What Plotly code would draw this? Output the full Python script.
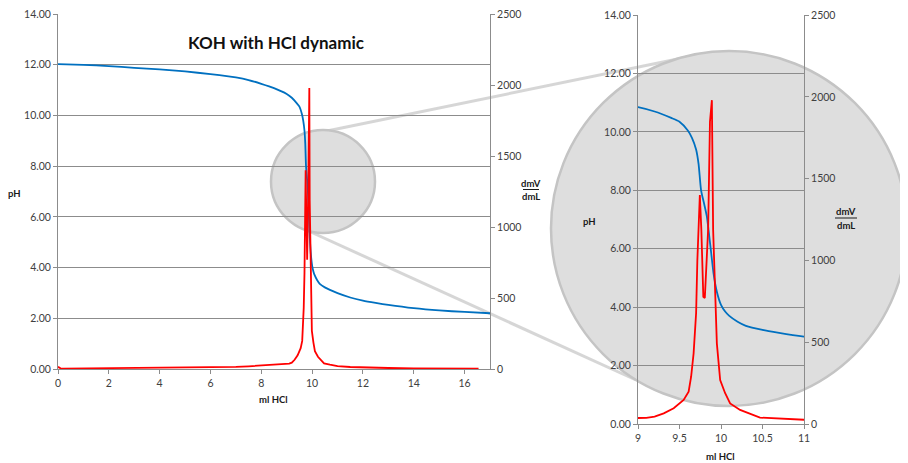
import plotly.graph_objects as go

# ---------------- data ----------------
ml_hcl_ph = [0, 1, 2, 3, 4, 5, 6, 7, 7.5, 8, 8.5, 9, 9.2, 9.4, 9.5, 9.6, 9.65, 9.7,
             9.73, 9.76, 9.8, 9.83, 9.85, 9.88, 9.91, 9.95, 10.0, 10.05, 10.1, 10.2,
             10.3, 10.5, 10.7, 11.0, 11.5, 12, 12.5, 13, 14, 15, 16, 17]
ph_values = [12.03, 12.00, 11.95, 11.88, 11.82, 11.74, 11.63, 11.50, 11.40, 11.25, 11.08,
             10.85, 10.70, 10.48, 10.35, 10.05, 9.80, 9.40, 8.90, 8.00, 7.50, 7.10, 6.64,
             5.90, 5.16, 4.53, 4.08, 3.85, 3.70, 3.50, 3.36, 3.22, 3.12, 2.99, 2.82, 2.70,
             2.61, 2.53, 2.40, 2.31, 2.25, 2.20]

ml_hcl_deriv = [0, 0.1, 0.2, 1, 2, 3, 4, 5, 6, 7, 7.5, 8, 8.5, 9, 9.1, 9.2, 9.31, 9.43,
                9.55, 9.61, 9.64, 9.67, 9.70, 9.715, 9.745, 9.763, 9.787, 9.805, 9.845,
                9.867, 9.89, 9.905, 9.93, 9.95, 9.99, 10.05, 10.11, 10.23, 10.47, 10.7,
                11.0, 11.5, 12, 13, 14, 15, 16, 16.55]
dmv_dml = [15, 5, 3, 4, 5, 6, 7, 9, 11, 15, 19, 24, 30, 35, 38, 45, 65, 96,
           147, 198, 289, 432, 677, 1000, 1400, 1190, 778, 770, 1190,
           1848, 1980, 1190, 780, 493, 269, 188, 126, 86, 39, 30,
           20, 14, 10, 7, 5, 4, 3, 3]

ph_ticks = [0, 2, 4, 6, 8, 10, 12, 14]
deriv_ticks = [0, 500, 1000, 1500, 2000, 2500]
zoom_ticks = [9, 9.5, 10, 10.5, 11]
zoom_tick_labels = ["9", "9.5", "10", "10.5", "11"]

# ---------------- layout helpers ----------------
# the page body has an 8px margin, so the figure starts at (8, 8) of the window
OFF = 8
W, H = 908 - OFF, 463 - OFF
def px(x):
    return (x - OFF) / W
def py(y):
    return 1 - (y - OFF) / H

FONT = "Lato, 'Open Sans', sans-serif"
TICKC = "#404040"
GRID = "#8c8c8c"
BLUE = "#0070C0"
RED = "#FF0000"

fig = go.Figure()

# left chart
fig.add_trace(go.Scatter(x=ml_hcl_ph, y=ph_values, mode="lines",
                         line=dict(color=BLUE, width=1.8, shape="spline", smoothing=0.6),
                         xaxis="x", yaxis="y", showlegend=False, hoverinfo="skip"))
fig.add_trace(go.Scatter(x=ml_hcl_deriv, y=dmv_dml, mode="lines",
                         line=dict(color=RED, width=1.8),
                         xaxis="x", yaxis="y2", showlegend=False, hoverinfo="skip"))
# zoomed chart
fig.add_trace(go.Scatter(x=ml_hcl_ph, y=ph_values, mode="lines",
                         line=dict(color=BLUE, width=1.8, shape="spline", smoothing=0.6),
                         xaxis="x2", yaxis="y3", showlegend=False, hoverinfo="skip"))
fig.add_trace(go.Scatter(x=ml_hcl_deriv, y=dmv_dml, mode="lines",
                         line=dict(color=RED, width=1.8),
                         xaxis="x2", yaxis="y4", showlegend=False, hoverinfo="skip"))

tickfont = dict(family=FONT, size=10.5, color=TICKC)
axis_common = dict(showline=True, linecolor=GRID, linewidth=1, ticks="outside",
                   ticklen=4, tickcolor=GRID, tickfont=tickfont, zeroline=False,
                   automargin=False, ticklabeloverflow="allow")

L_dom_x = [px(58), px(490)]
L_dom_y = [py(369), py(14)]
R_dom_x = [px(638), px(804)]
R_dom_y = [py(424), py(15)]

fig.update_layout(
    width=W, height=H,
    margin=dict(l=0, r=0, t=0, b=0, pad=0, autoexpand=False),
    paper_bgcolor="white",
    plot_bgcolor="rgba(0,0,0,0)",
    xaxis=dict(domain=L_dom_x, range=[0, 17], tickvals=list(range(0, 17, 2)),
               anchor="y", showgrid=False, **axis_common),
    yaxis=dict(domain=L_dom_y, range=[0, 14.004], tickvals=ph_ticks, tickformat=".2f",
               anchor="x", showgrid=True, gridcolor=GRID, gridwidth=1, **axis_common),
    yaxis2=dict(range=[0, 2500.7], tickvals=deriv_ticks, overlaying="y", side="right",
                anchor="x", showgrid=False, **axis_common),
    xaxis2=dict(domain=R_dom_x, range=[9, 11], tickvals=zoom_ticks,
                ticktext=zoom_tick_labels, anchor="y3", showgrid=False, **axis_common),
    yaxis3=dict(domain=R_dom_y, range=[0, 14.004], tickvals=ph_ticks, tickformat=".2f",
                anchor="x2", showgrid=True, gridcolor=GRID, gridwidth=1, **axis_common),
    yaxis4=dict(range=[0, 2500.7], tickvals=deriv_ticks, overlaying="y3", side="right",
                anchor="x2", showgrid=False, **axis_common),
)

# magnifier decoration
CFILL = "rgba(222,222,222,1)"
CLINE = "rgba(196,196,196,1)"
shapes = [
    dict(type="line", xref="paper", yref="paper", x0=px(322), y0=py(132), x1=px(702), y1=py(54),
         line=dict(color="rgba(200,200,200,0.75)", width=3), layer="below"),
    dict(type="line", xref="paper", yref="paper", x0=px(302), y0=py(228), x1=px(636), y1=py(380),
         line=dict(color="rgba(200,200,200,0.75)", width=3), layer="below"),
    dict(type="circle", xref="paper", yref="paper", x0=px(271), x1=px(375), y0=py(233), y1=py(130),
         fillcolor=CFILL, line=dict(color=CLINE, width=2.5), layer="below"),
    dict(type="circle", xref="paper", yref="paper", x0=px(551), x1=px(907), y0=py(406), y1=py(51),
         fillcolor=CFILL, line=dict(color=CLINE, width=2.5), layer="below"),
]
fig.update_layout(shapes=shapes)

tfont = dict(family=FONT, size=9.5, color="#1a1a1a")
ann = [
    dict(text="<b>KOH with HCl dynamic</b>", x=px(276), y=py(43),
         font=dict(family=FONT, size=17, color="#111111")),
    dict(text="<b>pH</b>", x=px(14), y=py(193), font=tfont),
    dict(text="<b>ml HCl</b>", x=px(273), y=py(399), font=tfont),
    dict(text="<b>dmV</b>", x=px(531), y=py(184), font=tfont),
    dict(text="<b>dmL</b>", x=px(531), y=py(196), font=tfont),
    dict(text="<b>pH</b>", x=px(589.5), y=py(221), font=tfont),
    dict(text="<b>ml HCl</b>", x=px(720), y=py(456.5), font=tfont),
    dict(text="<b>dmV</b>", x=px(846), y=py(211), font=tfont),
    dict(text="<b>dmL</b>", x=px(846), y=py(225), font=tfont),
]
for a in ann:
    fig.add_annotation(xref="paper", yref="paper", showarrow=False,
                       xanchor="center", yanchor="middle", **a)

# fraction bars
fig.add_shape(type="line", xref="paper", yref="paper", x0=px(523), x1=px(539), y0=py(189.5), y1=py(189.5),
              line=dict(color="#1a1a1a", width=1))
fig.add_shape(type="line", xref="paper", yref="paper", x0=px(835), x1=px(857), y0=py(218), y1=py(218),
              line=dict(color="#1a1a1a", width=1))

fig.write_html("out.html")
